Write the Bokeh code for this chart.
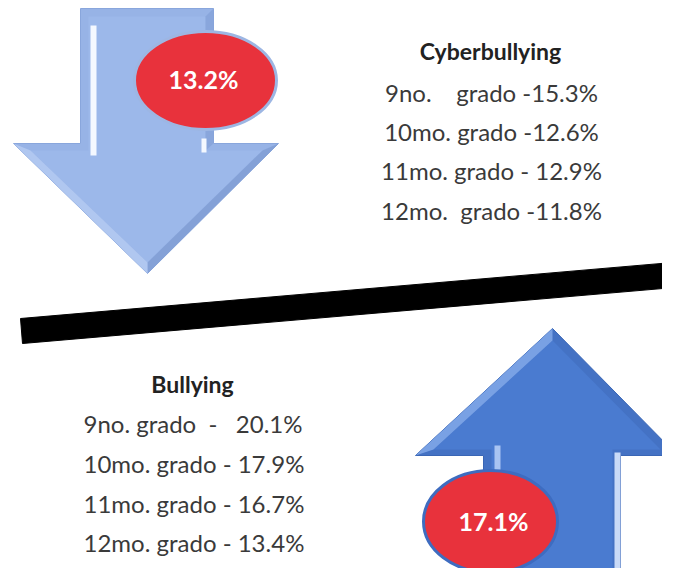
from bokeh.plotting import figure
from bokeh.models import Range1d
from bokeh.core.properties import value
from bokeh.embed import file_html
from bokeh.resources import INLINE

# ---- data ----
cyber_title = "Cyberbullying"
cyber_grades = ["9no.", "10mo.", "11mo.", "12mo."]
cyber_seps = ["\u00a0\u00a0\u00a0 grado -", " grado -", " grado - ", "\u00a0 grado -"]
cyber_values = [15.3, 12.6, 12.9, 11.8]
cyber_total = 13.2

bully_title = "Bullying"
bully_grades = ["9no.", "10mo.", "11mo.", "12mo."]
bully_seps = [" grado \u00a0- \u00a0 ", " grado - ", " grado - ", " grado - "]
bully_values = [20.1, 17.9, 16.7, 13.4]
bully_total = 17.1

W, H = 662, 568
p = figure(width=W, height=H, x_range=Range1d(0, 662), y_range=Range1d(568, 0),
           output_backend="svg", toolbar_location=None, min_border=0)
p.axis.visible = False
p.grid.visible = False
p.outline_line_color = None
p.background_fill_color = "white"
p.border_fill_color = "white"

FONT = value("Lato")

# ---- black divider bar ----
p.patch([20, 672, 674, 22], [318, 262, 287, 343], fill_color="black", line_color="black", line_width=1)

# ---- down arrow (light blue) ----
dx = [80, 213, 213, 278, 147, 13, 80]
dy = [8, 8, 143, 143, 273, 143, 143]
p.patch(dx, dy, fill_color="#97B3E6", line_color="#89A6DC", line_width=1)
ix = [88, 205, 205, 262, 147, 30, 88]
iy = [16, 16, 150, 150, 262, 150, 150]
p.patch(ix, iy, fill_color="#9CB8EA", line_color=None)
p.patch([278, 147, 147, 262], [143, 273, 262, 150], fill_color="#7F9CD3", line_color=None, alpha=0.8)
p.patch([213, 213, 205, 205], [8, 143, 150, 16], fill_color="#86A3DA", line_color=None, alpha=0.8)
p.quad(left=[90], right=[96], top=[25], bottom=[155], fill_color="#F4F8FF", line_color=None)
p.patch([13, 147, 147, 30], [143, 273, 262, 150], fill_color="#B7CCF2", line_color=None, alpha=0.8)
p.quad(left=[201], right=[206], top=[138], bottom=[152], fill_color="#F4F8FF", line_color=None)

# ---- up arrow (blue) ----
ux = [552, 677, 620, 620, 483, 483, 415, 552]
uy = [328, 455, 455, 600, 600, 455, 455, 328]
p.patch(ux, uy, fill_color="#4472C4", line_color="#3A66B5", line_width=1)
p.patch([552, 660, 612, 612, 491, 491, 433, 552], [340, 449, 449, 600, 600, 449, 449, 340],
        fill_color="#4A7BD0", line_color=None)
p.patch([415, 552, 552, 433], [455, 328, 340, 449], fill_color="#7FA6E8", line_color=None, alpha=0.9)
p.quad(left=[494], right=[500], top=[445], bottom=[600], fill_color="#A9C4F2", line_color=None)
p.quad(left=[614], right=[620], top=[452], bottom=[600], fill_color="#C9DAF7", line_color=None)

# ---- red badges ----
p.ellipse(x=[205], y=[80], width=[142], height=[98], fill_color="#E8323C",
          line_color="#9DB6E3", line_width=3)
p.text(x=[203], y=[78], text=[f"{cyber_total}%"], text_font=FONT, text_font_style="bold",
       text_font_size="25px", text_color="white", text_align="center", text_baseline="middle")
p.ellipse(x=[490], y=[521], width=[134], height=[102], fill_color="#E8323C",
          line_color="#3E6CC0", line_width=3)
p.text(x=[493], y=[520], text=[f"{bully_total}%"], text_font=FONT, text_font_style="bold",
       text_font_size="25px", text_color="white", text_align="center", text_baseline="middle")

# ---- text blocks ----
TXT = "#3a3a3a"
p.text(x=[490], y=[50], text=[cyber_title], text_font=FONT, text_font_style="bold",
       text_font_size="23px", text_color="#222222", text_align="center", text_baseline="middle")
cyber_lines = [f"{g}{s}{v}%" for g, s, v in zip(cyber_grades, cyber_seps, cyber_values)]
p.text(x=[491] * 4, y=[92, 131, 170, 210], text=cyber_lines, text_font=FONT,
       text_font_size="24px", text_color=TXT, text_align="center", text_baseline="middle")

p.text(x=[192], y=[383], text=[bully_title], text_font=FONT, text_font_style="bold",
       text_font_size="23px", text_color="#222222", text_align="center", text_baseline="middle")
bully_lines = [f"{g}{s}{v}%" for g, s, v in zip(bully_grades, bully_seps, bully_values)]
p.text(x=[83] * 4, y=[423, 463, 503, 542], text=bully_lines, text_font=FONT,
       text_font_size="24px", text_color=TXT, text_align="left", text_baseline="middle")

open("out.html", "w").write(file_html(p, INLINE))
